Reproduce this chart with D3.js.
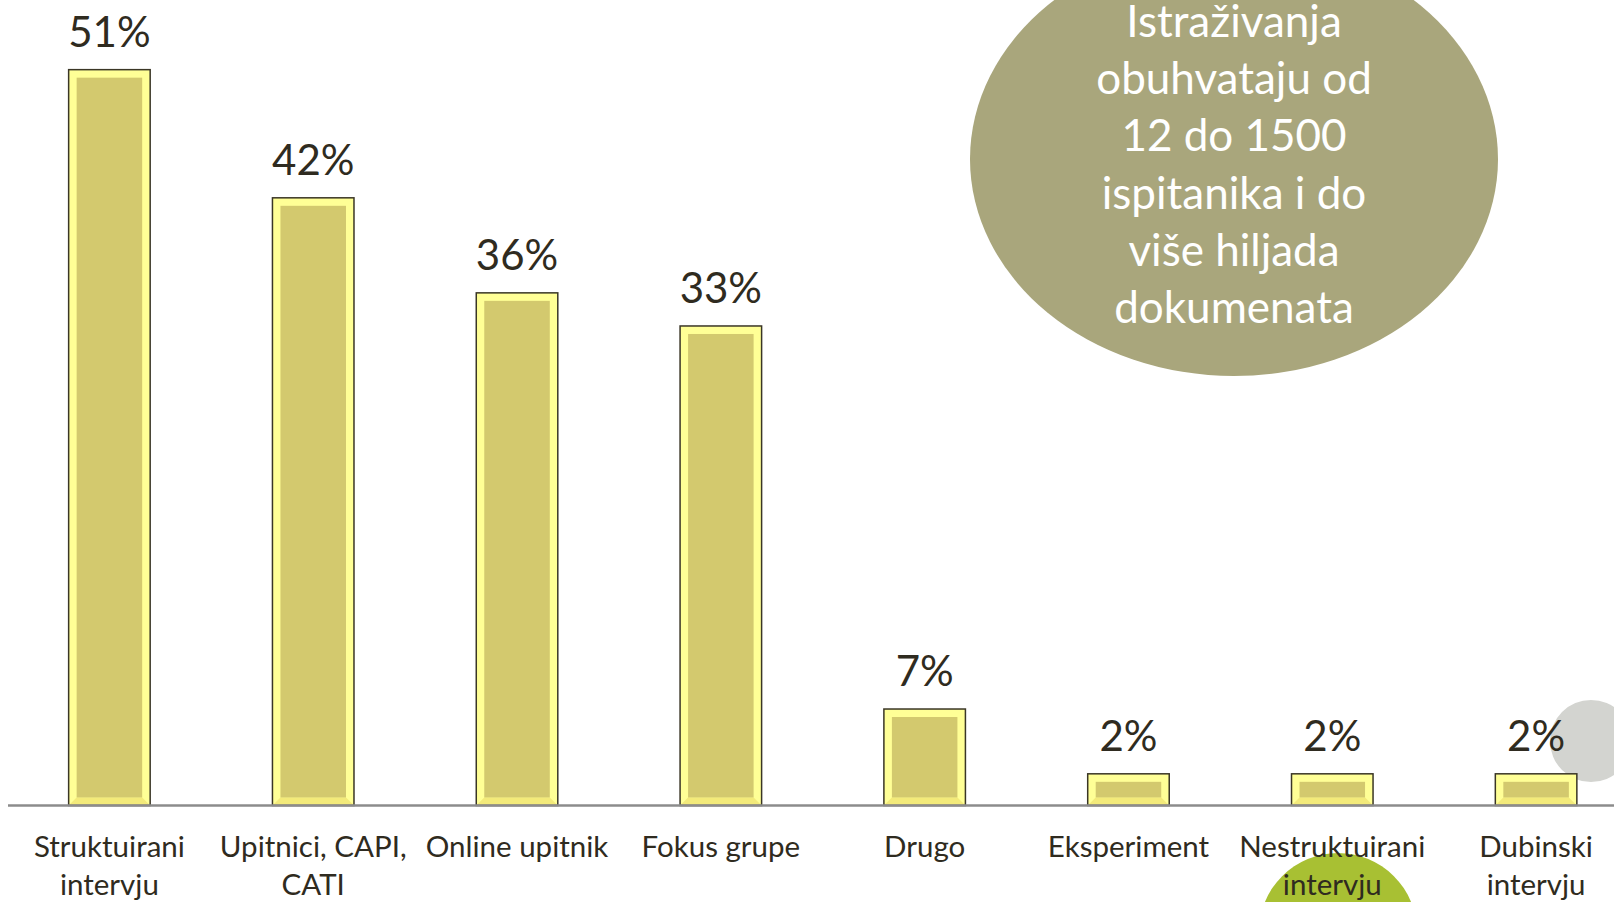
<!DOCTYPE html>
<html>
<head>
<meta charset="utf-8">
<script src="https://cdn.jsdelivr.net/npm/d3@7"></script>
<style>
  body { margin: 0; background: #ffffff; overflow: hidden; }
  svg { display: block; font-family: Lato, "Open Sans", sans-serif; }
</style>
</head>
<body>
<div id="chart"></div>
<script>
// categories (two lines each) and values in percent
const categories = [
    ["Struktuirani", "intervju"],
    ["Upitnici, CAPI,", "CATI"],
    ["Online upitnik"],
    ["Fokus grupe"],
    ["Drugo"],
    ["Eksperiment"],
    ["Nestruktuirani", "intervju"],
    ["Dubinski", "intervju"]
]
const values = [51.1, 42.2, 35.6, 33.3, 6.7, 2.2, 2.2, 2.2]
const valueLabels = ["51%", "42%", "36%", "33%", "7%", "2%", "2%", "2%"]
const noteLines = ["Istraživanja", "obuhvataju od", "12 do 1500", "ispitanika i do", "više hiljada", "dokumenata"]

const width = 1614, height = 902
const base = 805.5
const inset = 8

const svg = d3.select('#chart').append('svg')
    .attr('width', width).attr('height', height)

// decorative shapes behind the chart
svg.append('ellipse')
    .attr('cx', 1234).attr('cy', 159).attr('rx', 264).attr('ry', 217)
    .attr('fill', '#a9a67c')
svg.append('circle')
    .attr('cx', 1338).attr('cy', 932).attr('r', 79)
    .attr('fill', '#a8c033')
svg.append('circle')
    .attr('cx', 1591).attr('cy', 741).attr('r', 41)
    .attr('fill', '#d3d4d0')

// note inside the ellipse
svg.append('g').selectAll('text')
    .data(noteLines)
    .join('text')
    .attr('x', 1234)
    .attr('y', (d, i) => 37 + i * 57.2)
    .attr('text-anchor', 'middle')
    .attr('fill', '#ffffff')
    .attr('font-size', 44)
    .text(d => d)

const idx = d3.range(values.length)

var x = d3.scaleBand()
    .domain(idx)
    .range([7.5, 1638])
    .paddingInner(0.6)
    .paddingOuter(0.3)

var y = d3.scaleLinear()
    .domain([0, 55])
    .range([base, base - 55 * 14.4])

const bars = svg.append('g').selectAll('g')
    .data(idx)
    .join('g')

// outer bevel
bars.append('rect')
    .attr('x', i => x(i))
    .attr('y', i => y(values[i]))
    .attr('width', x.bandwidth())
    .attr('height', i => base - y(values[i]))
    .attr('fill', '#ffff96')

// darker bottom bevel
bars.append('path')
    .attr('fill', '#f3ea7a')
    .attr('d', i => {
        let x0 = x(i), x1 = x(i) + x.bandwidth()
        return `M${x0},${base}L${x0 + inset},${base - inset}L${x1 - inset},${base - inset}L${x1},${base}Z`
    })

// inner face
bars.append('rect')
    .attr('x', i => x(i) + inset)
    .attr('y', i => y(values[i]) + inset)
    .attr('width', x.bandwidth() - 2 * inset)
    .attr('height', i => Math.max(0, base - y(values[i]) - 2 * inset))
    .attr('fill', '#d3c96e')

// outline
bars.append('rect')
    .attr('x', i => x(i))
    .attr('y', i => y(values[i]))
    .attr('width', x.bandwidth())
    .attr('height', i => base - y(values[i]))
    .attr('fill', 'none')
    .attr('stroke', '#3a3626')
    .attr('stroke-width', 1.5)

// value labels
bars.append('text')
    .attr('x', i => x(i) + x.bandwidth() / 2)
    .attr('y', i => y(values[i]) - 23)
    .attr('text-anchor', 'middle')
    .attr('font-size', 42)
    .attr('fill', '#2f2b20')
    .text(i => valueLabels[i])

// baseline
svg.append('line')
    .attr('x1', 8).attr('x2', width)
    .attr('y1', base).attr('y2', base)
    .attr('stroke', '#8c8c8c')
    .attr('stroke-width', 2.5)

// category labels
const cats = svg.append('g').selectAll('text')
    .data(idx)
    .join('text')
    .attr('text-anchor', 'middle')
    .attr('font-size', 29.5)
    .attr('fill', '#2f2b20')

cats.selectAll('tspan')
    .data(i => categories[i].map(t => ({t: t, i: i})))
    .join('tspan')
    .attr('x', d => x(d.i) + x.bandwidth() / 2)
    .attr('y', (d, j) => 857 + j * 38)
    .text(d => d.t)
</script>
</body>
</html>
